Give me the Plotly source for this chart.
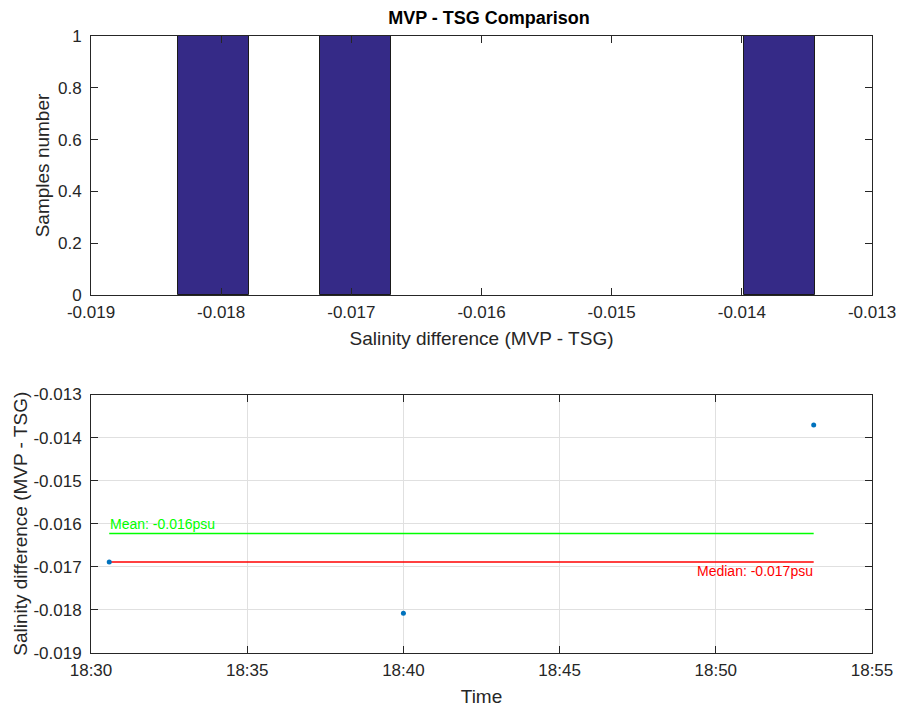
import plotly.graph_objects as go
from plotly.subplots import make_subplots
import numpy as np

# Histogram data (bin centers, counts)
bin_centers = [-0.01806, -0.01697, -0.01371]
bin_counts = [1, 1, 1]
BIN_WIDTH = 0.000545

# Time series data
times = ["2020-01-01 18:30:35", "2020-01-01 18:40:00", "2020-01-01 18:53:08"]
sal_diff = [-0.016886, -0.018078, -0.013709]

hist_xticks = [-0.019, -0.018, -0.017, -0.016, -0.015, -0.014, -0.013]
hist_xlabels = ["-0.019", "-0.018", "-0.017", "-0.016", "-0.015", "-0.014", "-0.013"]
hist_yticks = [0, 0.2, 0.4, 0.6, 0.8, 1]
hist_ylabels = ["0", "0.2", "0.4", "0.6", "0.8", "1"]
ts_yticks = [-0.019, -0.018, -0.017, -0.016, -0.015, -0.014, -0.013]
ts_ylabels = ["-0.019", "-0.018", "-0.017", "-0.016", "-0.015", "-0.014", "-0.013"]

mean_v = float(np.mean(sal_diff))
median_v = float(np.median(sal_diff))

FONT = "Liberation Sans, Arial, sans-serif"
TXT = "#262626"

fig = make_subplots(rows=2, cols=1, vertical_spacing=0.0, row_heights=[0.5, 0.5])

fig.add_trace(go.Bar(x=bin_centers, y=bin_counts, width=BIN_WIDTH,
                     marker=dict(color="#352a87", line=dict(color="#1a1a1a", width=1)),
                     showlegend=False), row=1, col=1)

fig.add_trace(go.Scatter(x=[times[0], times[-1]], y=[mean_v, mean_v], mode="lines",
                         line=dict(color="#00ff00", width=1.5), showlegend=False), row=2, col=1)
fig.add_trace(go.Scatter(x=[times[0], times[-1]], y=[median_v, median_v], mode="lines",
                         line=dict(color="#ff0000", width=1.5), showlegend=False), row=2, col=1)
fig.add_trace(go.Scatter(x=times, y=sal_diff, mode="markers",
                         marker=dict(color="#0072bd", size=5), showlegend=False), row=2, col=1)

fig.add_annotation(x=times[0], y=mean_v, xref="x2", yref="y2", text="Mean: %.3fpsu" % mean_v,
                   showarrow=False, xanchor="left", yanchor="bottom", yshift=-1, xshift=-1,
                   font=dict(color="#00ff00", size=14, family=FONT))
fig.add_annotation(x=times[-1], y=median_v, xref="x2", yref="y2", text="Median: %.3fpsu" % median_v,
                   showarrow=False, xanchor="right", yanchor="top", yshift=1, xshift=1,
                   font=dict(color="#ff0000", size=14, family=FONT))

axis_common = dict(showline=True, linecolor=TXT, linewidth=1, mirror="ticks",
                   ticks="inside", ticklen=7, tickcolor=TXT, zeroline=False, automargin=False,
                   tickfont=dict(size=17, color=TXT, family=FONT))
title_font = dict(size=19, color=TXT, family=FONT)

fig.update_xaxes(row=1, col=1, range=[-0.019, -0.013], tickvals=hist_xticks, ticktext=hist_xlabels,
                 showgrid=False, ticklabelstandoff=2,
                 title=dict(text="Salinity difference (MVP - TSG)", standoff=10, font=title_font),
                 **axis_common)
fig.update_yaxes(row=1, col=1, range=[0, 1], tickvals=hist_yticks, ticktext=hist_ylabels,
                 showgrid=False, ticklabelstandoff=5,
                 title=dict(text="Samples number", standoff=3, font=title_font), **axis_common)

fig.update_xaxes(row=2, col=1, range=["2020-01-01 18:30:00", "2020-01-01 18:55:00"],
                 dtick=300000, tickformat="%H:%M", showgrid=True, gridcolor="#e0e0e0",
                 ticklabelstandoff=2,
                 title=dict(text="Time", standoff=10, font=title_font), **axis_common)
fig.update_yaxes(row=2, col=1, range=[-0.019, -0.013], tickvals=ts_yticks, ticktext=ts_ylabels,
                 showgrid=True, gridcolor="#e0e0e0", ticklabelstandoff=5,
                 title=dict(text="Salinity difference (MVP - TSG)", standoff=0, font=title_font),
                 **axis_common)

fig.update_layout(
    width=900, height=711,
    margin=dict(l=91, r=28, t=36, b=58),
    plot_bgcolor="white", paper_bgcolor="white",
    title=dict(text="<b>MVP - TSG Comparison</b>", x=489 / 900, xref="container",
               xanchor="center", y=1 - 18 / 711, yanchor="middle",
               font=dict(size=18, color="#000000", family=FONT)),
    bargap=0,
)
fig.layout.yaxis.domain = [1 - (295 - 36) / 617, 1.0]
fig.layout.yaxis2.domain = [0.0, (653 - 394.5) / 617]
fig.layout.xaxis.domain = [0, 1]
fig.layout.xaxis2.domain = [0, 1]

fig.write_html("out.html", config={"displayModeBar": False},
               post_script="document.body.style.margin='0px';document.body.style.overflow='hidden';")
